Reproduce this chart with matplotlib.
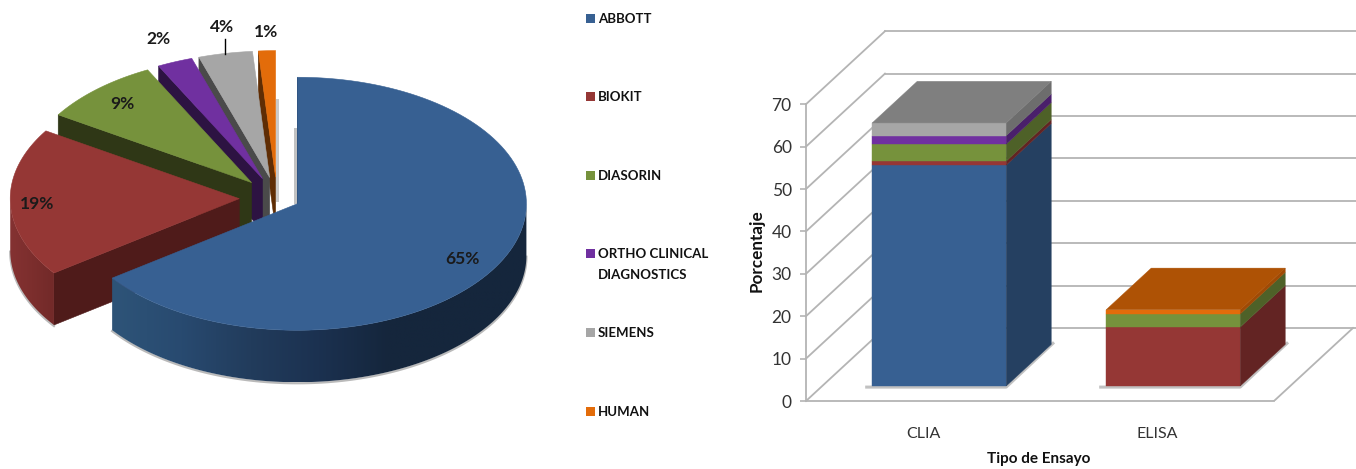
'''
Pie (exploded, fake 3D) and stacked bars (fake 3D) for the assay brands
'''
import numpy as np
import matplotlib
matplotlib.use("Agg")
import matplotlib.pyplot as plt
from matplotlib.colors import to_rgb
from matplotlib.patches import Polygon, Rectangle

plt.rcParams["font.family"] = ["Lato", "DejaVu Sans"]

# pie data
brands = ["ABBOTT", "BIOKIT", "DIASORIN", "ORTHO CLINICAL\nDIAGNOSTICS", "SIEMENS", "HUMAN"]
shares = [65, 19, 8.5, 2.5, 3.8, 1.2]
share_labels = ["65%", "19%", "9%", "2%", "4%", "1%"]
explode = [0.10, 0.165, 0.165, 0.165, 0.165, 0.165]

# bar data
assays = ["CLIA", "ELISA"]
clia_values = [52.1, 0.95, 4.0, 2.0, 3.0, 0.0]
elisa_values = [0.0, 13.9, 3.1, 0.0, 0.0, 1.0]

# colours per brand
top_colors = ["#376092", "#953735", "#76923c", "#7030a0", "#a6a6a6", "#e36c0a"]
wall_colors = ["#14263f", "#4f1b1a", "#2f3716", "#2d1342", "#4a4a4a", "#5f2d04"]
side_colors = ["#254061", "#632423", "#4e6128", "#4a1f6b", "#6d6d6d", "#a04a05"]
lid_colors = ["#254061", "#632423", "#4e6128", "#4a1f6b", "#7f7f7f", "#ae5205"]
grid_color = "#b4b4b4"

W, H = 1356, 469
fig = plt.figure(figsize=(W / 100, H / 100), dpi=100)

# ---- pie, drawn on an axes in pixel units ----
ax = fig.add_axes([0, 0, 1, 1])
ax.set_autoscale_on(False)
ax.set_xlim(0, W)
ax.set_ylim(H, 0)
ax.axis("off")

cx, cy = 277, 198
rx, ry = 229, 126.5
depth = 52


def rim(apex, a):
    # a is clockwise from the top, in degrees
    a = np.radians(a)
    return apex[0] + rx * np.sin(a), apex[1] - ry * np.cos(a)


edges = np.cumsum([0] + shares) * 3.6
apexes = []
for i in range(len(shares)):
    mid = np.radians((edges[i] + edges[i + 1]) / 2)
    apexes.append((cx + explode[i] * rx * np.sin(mid), cy - explode[i] * ry * np.cos(mid)))

# grey shadows on the white gap, right of the orange slice and left of the blue one
ax.add_patch(Rectangle((apexes[0][0] - 3, apexes[0][1] - 0.6 * ry), 3, 0.6 * ry, fc="#c2c2c2", ec="none", zorder=1))
ax.add_patch(Rectangle((apexes[5][0], apexes[5][1] - 0.62 * ry), 3.5, 0.82 * ry, fc="#cacaca", ec="none", zorder=1))

# wall shading, from left to right of the wall
wall_stops = {0: ["#2e5478", "#284a70", "#223c5c", "#1b3150", "#15263c", "#15263c", "#15263c"],
              1: ["#843232", "#7c2e2d", "#722a29"]}

# back to front
z = 2
for i in [5, 4, 3, 2, 1, 0]:
    apex = apexes[i]
    a0, a1 = edges[i], edges[i + 1]
    start = rim(apex, a0)
    wall = [apex, start, (start[0], start[1] + depth), (apex[0], apex[1] + depth)]
    ax.add_patch(Polygon(wall, fc=wall_colors[i], ec=wall_colors[i], lw=0.4, zorder=z))

    # outer wall, only the part that faces the viewer
    lo, hi = max(a0, 90), min(a1, 270)
    if hi > lo:
        pts = [rim(apex, a) for a in np.linspace(lo, hi, 120)]
        strip = pts + [(x, y + depth) for x, y in pts[::-1]]
        xs = [p[0] for p in strip]
        ys = [p[1] for p in strip]
        # soft edge under the wall
        ax.plot([p[0] for p in pts], [p[1] + depth + 1 for p in pts], color="#8c8c8c", lw=1.6,
                alpha=0.6, zorder=z)
        z += 1
        stops = np.array([to_rgb(c) for c in wall_stops[i]])
        t = np.linspace(0, 1, 256)
        grad = np.stack([np.interp(t, np.linspace(0, 1, len(stops)), stops[:, k]) for k in range(3)], axis=1)
        clip = Polygon(strip, transform=ax.transData, fc="none", ec="none")
        ax.add_patch(clip)
        im = ax.imshow(grad[np.newaxis, :, :], extent=(min(xs), max(xs), max(ys), min(ys)),
                       aspect="auto", zorder=z)
        im.set_clip_path(clip)
        ax.set_xlim(0, W)
        ax.set_ylim(H, 0)
    z += 1

    ang = np.linspace(a0, a1, 120)
    outline = [apex] + [rim(apex, a) for a in ang]
    ax.add_patch(Polygon(outline, fc=top_colors[i], ec=top_colors[i], lw=0.4, zorder=z))
    z += 1

# percentage labels
label_xy = [(462, 259), (37, 204), (122, 104), (158, 39), (222, 27), (266, 32)]
for (lx, ly), txt in zip(label_xy, share_labels):
    ax.text(lx, ly, txt, ha="center", va="center", fontsize=12.5, fontweight="bold",
            color="#1a1a1a", zorder=z)

# leader of the 4% label
tip = rim(apexes[4], (edges[4] + edges[5]) / 2)
ax.plot([tip[0], tip[0]], [tip[1] + 1, tip[1] - 14], color="black", lw=1, zorder=z)

# legend
legend_y = [19, 97, 176, 254, 333, 412]
for name, col, ly in zip(brands, top_colors, legend_y):
    ax.add_patch(Rectangle((586, ly - 4.5), 8.5, 8.5, fc=col, ec="none", zorder=z))
    ax.text(598, ly - 6, name, ha="left", va="top", fontsize=9.5, fontweight="bold",
            color="#111111", linespacing=1.9, zorder=z)

# ---- stacked bars, y axis in percent, x axis in category number ----
px_per_unit = 4.24
px_per_cat = 234
ax2 = fig.add_axes([806 / W, (H - 401) / H, (W - 806) / W, 401 / H])
ax2.patch.set_alpha(0)
ax2.set_xlim(-0.5, (W - 806) / px_per_cat - 0.5)
ax2.set_ylim(0, 401 / px_per_unit)

wall_dx = 79 / px_per_cat
wall_dy = 73 / px_per_unit
xmax = ax2.get_xlim()[1]

for v in range(0, 80, 10):
    ax2.plot([-0.5, -0.5 + wall_dx], [v, v + wall_dy], color=grid_color, lw=1.3, zorder=1, clip_on=False)
    ax2.plot([-0.5 + wall_dx, xmax], [v + wall_dy, v + wall_dy], color=grid_color, lw=1.3, zorder=1)
ax2.plot([1.5, 1.5 + wall_dx], [0, wall_dy], color=grid_color, lw=1.3, zorder=1)

bar_w = 134 / px_per_cat
front = 0.205
back = 0.775


def shift(x, y, d):
    return x + d * wall_dx, y + d * wall_dy


for pos, values in enumerate([clia_values, elisa_values]):
    left, right = pos - bar_w / 2, pos + bar_w / 2
    # soft shadow at the foot
    x0, y0 = shift(left - 0.03, -0.25, front)
    x1, y1 = shift(right, -0.25, front)
    x2, y2 = shift(right + 0.012, 0.5, back)
    ax2.plot([x0, x1, x2], [y0, y1, y2], color="#777777", lw=2.2, alpha=0.45, zorder=2,
             solid_capstyle="butt")
    bottom = 0.0
    last = 0
    for i, val in enumerate(values):
        if val <= 0:
            continue
        top = bottom + val
        ax2.add_patch(Polygon([shift(left, bottom, front), shift(right, bottom, front),
                               shift(right, top, front), shift(left, top, front)],
                              fc=top_colors[i], ec=top_colors[i], lw=0.3, zorder=3))
        ax2.add_patch(Polygon([shift(right, bottom, front), shift(right, bottom, back),
                               shift(right, top, back), shift(right, top, front)],
                              fc=side_colors[i], ec=side_colors[i], lw=0.3, zorder=3))
        bottom = top
        last = i
    ax2.add_patch(Polygon([shift(left, bottom, front), shift(right, bottom, front),
                           shift(right, bottom, back), shift(left, bottom, back)],
                          fc=lid_colors[last], ec=lid_colors[last], lw=0.3, zorder=3))

ax2.set_xticks(range(len(assays)))
ax2.set_xticklabels(assays)
ax2.set_yticks(range(0, 80, 10))
ax2.tick_params(axis="x", length=0, pad=18.5, labelsize=11.5, labelcolor="#333333")
ax2.tick_params(axis="y", length=4.3, width=1.2, color=grid_color, pad=6, labelsize=12.5, labelcolor="#333333")
for side in ["top", "right"]:
    ax2.spines[side].set_visible(False)
ax2.spines["left"].set_bounds(0, 70)
ax2.spines["bottom"].set_bounds(-0.5, 1.5)
for side in ["left", "bottom"]:
    ax2.spines[side].set_color(grid_color)
    ax2.spines[side].set_linewidth(1.3)

ax2.set_ylabel("Porcentaje", fontsize=12.3, fontweight="bold", va="center", color="#111111")
ax2.yaxis.set_label_coords(-49 / 550, 0.375)
ax2.set_xlabel("Tipo de Ensayo", fontsize=11, fontweight="bold", va="center", color="#111111")
ax2.xaxis.set_label_coords(233 / 550, -58 / 401)

plt.savefig("out.png", dpi=100)
